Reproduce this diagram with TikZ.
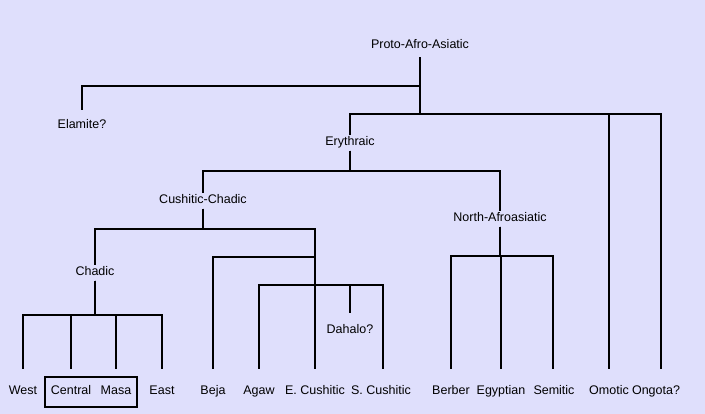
\documentclass[tikz,border=0pt]{standalone}
\usepackage{fontspec}
\setmainfont{Liberation Sans}
\usetikzlibrary{fit}
\definecolor{lavender}{RGB}{223,223,252}
\tikzset{
  lang/.style={inner sep=2pt, text height=9pt, text depth=2.5pt, anchor=base,
    font=\fontsize{12.5}{14}\selectfont},
  branch/.style={line width=2.6pt},
  leaf/.style={branch, shorten >=15pt},
}
\begin{document}
\begin{tikzpicture}[x=1pt,y=-1pt]
  \fill[lavender] (0,0) rectangle (705,414);
  \useasboundingbox (0,0) rectangle (705,414);
  % inner groups
  \node (proto)    at (420,49)  [lang] {Proto-Afro-Asiatic};
  \node (elamite)  at (82,129)  [lang] {Elamite?};
  \node (eryth)    at (350,146) [lang] {Erythraic};
  \node (cushchad) at (203,204) [lang] {Cushitic-Chadic};
  \node (northaa)  at (500,222) [lang] {North-Afroasiatic};
  \node (chadic)   at (95,276)  [lang] {Chadic};
  \node (dahalo)   at (350,334) [lang] {Dahalo?};
  \coordinate (afr)   at (420,114);
  \coordinate (cush)  at (315,257);
  \coordinate (ecush) at (315,285);
  % languages
  \node (west)      at (23,395)  [lang] {West};
  \node (central)   at (71,395)  [lang] {Central};
  \node (masa)      at (116,395) [lang] {Masa};
  \node (east)      at (162,395) [lang] {East};
  \node (beja)      at (213,395) [lang] {Beja};
  \node (agaw)      at (259,395) [lang] {Agaw};
  \node (ecushitic) at (315,395) [lang] {E. Cushitic};
  \node (scushitic) at (381,395) [lang] {S. Cushitic};
  \node (berber)    at (451,395) [lang] {Berber};
  \node (egyptian)  at (501,395) [lang] {Egyptian};
  \node (semitic)   at (554,395) [lang] {Semitic};
  \node (omotic)    at (609,395) [lang] {Omotic};
  \node (ongota)    at (656,395) [lang] {Ongota?};
  \node (centralmasa) [draw, line width=2pt, inner xsep=3.5pt, inner ysep=7pt,
    fit=(central)(masa)] {};
  % tree
  \draw[branch, shorten <=3.5pt, shorten >=8pt] (proto.south) -- (proto.south |- 0,86) -| (elamite.north);
  \draw[branch, shorten <=3.5pt] (proto.south) -- (afr);
  \draw[branch] (afr) -| (eryth.north);
  \draw[leaf] (afr) -| (omotic.north);
  \draw[leaf] (afr) -| ([xshift=5pt]ongota.north);
  \draw[branch] (eryth.south) -- (eryth.south |- 0,171) -| (cushchad.north);
  \draw[branch] (eryth.south) -- (eryth.south |- 0,171) -| (northaa.north);
  \draw[branch] (cushchad.south) -- (cushchad.south |- 0,229) -| (chadic.north);
  \draw[branch] (cushchad.south) -- (cushchad.south |- 0,229) -| (cush);
  \draw[leaf] (chadic.south) -- (chadic.south |- 0,315) -| (west.north);
  \draw[leaf] (chadic.south) -- (chadic.south |- 0,315) -| (central.north);
  \draw[leaf] (chadic.south) -- (chadic.south |- 0,315) -| (masa.north);
  \draw[leaf] (chadic.south) -- (chadic.south |- 0,315) -| (east.north);
  \draw[leaf] (cush) -| (beja.north);
  \draw[branch] (cush) -- (ecush);
  \draw[leaf] (ecush) -| (agaw.north);
  \draw[leaf] (ecush) -- (ecushitic.north);
  \draw[branch, shorten >=10pt] (ecush) -| (dahalo.north);
  \draw[leaf] (ecush) -| ([xshift=2pt]scushitic.north);
  \draw[leaf] (northaa.south) -- (northaa.south |- 0,256) -| (berber.north);
  \draw[leaf] (northaa.south) -- (northaa.south |- 0,256) -| (egyptian.north);
  \draw[leaf] (northaa.south) -- (northaa.south |- 0,256) -| ([xshift=-1pt]semitic.north);
\end{tikzpicture}
\end{document}
